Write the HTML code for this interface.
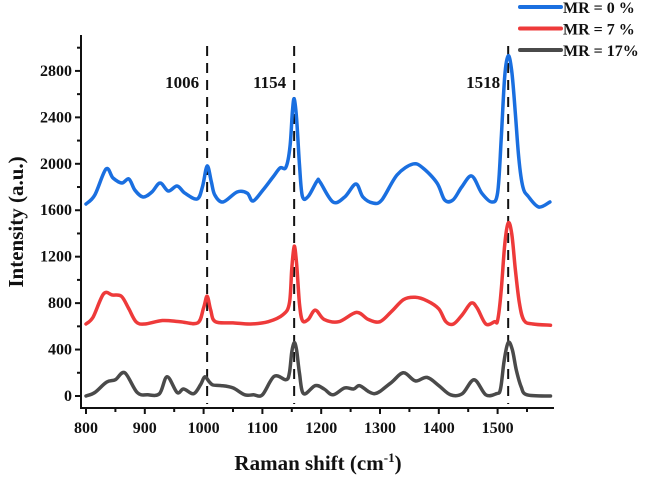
<!DOCTYPE html>
<html><head><meta charset="utf-8"><style>
html,body{margin:0;padding:0;background:#fff;}
svg text{font-family:"Liberation Serif",serif;font-weight:bold;fill:#111;}
</style></head><body>
<svg id="chart" width="645" height="478" viewBox="0 0 645 478" xmlns="http://www.w3.org/2000/svg">
<g id="series"></g>
<g id="axes"></g>
<g id="legend"></g>
</svg>
<script>
const xTicks=[800,900,1000,1100,1200,1300,1400,1500];
const yTicks=[0,400,800,1200,1600,2000,2400,2800];
const peaks=[1006,1154,1518];
const seriesNames=["MR = 0 %","MR = 7 %","MR = 17%"];
const seriesColors=["#1a6fe0","#ee3a3a","#4a4a4a"];
const blueX=[800,815,834,846,861,873,883,897,912,926,940,955,968,989,998,1006,1013,1019,1033,1057,1074,1084,1101,1118,1130,1140,1147,1151,1154,1158,1163,1168,1178,1193,1198,1220,1240,1259,1271,1288,1303,1329,1356,1373,1397,1410,1424,1439,1456,1473,1490,1500,1506,1512,1518,1524,1530,1536,1543,1552,1570,1589];
const blueY=[1654,1731,1955,1878,1835,1869,1774,1714,1757,1835,1766,1809,1748,1697,1800,1981,1850,1731,1671,1757,1748,1680,1774,1886,1964,1970,2150,2450,2560,2400,2000,1720,1720,1852,1843,1671,1714,1826,1714,1662,1688,1904,1998,1964,1835,1688,1688,1800,1895,1748,1671,1750,2200,2750,2930,2800,2450,2050,1800,1720,1628,1671];
const redX=[800,812,830,845,860,872,885,900,930,960,990,1000,1006,1012,1020,1050,1080,1110,1135,1146,1150,1154,1158,1163,1168,1178,1190,1205,1230,1260,1280,1300,1320,1340,1360,1380,1400,1412,1425,1440,1455,1465,1480,1495,1500,1506,1512,1518,1524,1530,1537,1545,1560,1590];
const redY=[620,680,880,870,860,760,640,620,650,640,630,760,860,740,640,630,620,640,700,800,1100,1290,1150,800,650,660,740,660,640,720,660,640,730,830,850,820,750,640,620,700,800,760,620,640,650,900,1300,1490,1400,1100,800,650,620,610];
const grayX=[800,815,835,850,866,887,905,925,938,955,966,983,995,1002,1010,1016,1030,1050,1070,1085,1100,1120,1140,1146,1150,1154,1158,1163,1170,1190,1205,1220,1240,1255,1265,1280,1290,1300,1320,1340,1360,1380,1400,1420,1440,1460,1480,1498,1505,1511,1518,1525,1532,1540,1550,1590];
const grayY=[0,30,120,140,200,30,10,20,165,30,60,20,100,165,120,95,90,70,10,10,10,170,140,200,380,460,400,200,20,90,60,10,70,60,90,40,20,40,120,200,130,160,90,10,20,140,10,20,60,300,460,400,220,80,10,0];
const xs=[blueX,redX,grayX], ys=[blueY,redY,grayY];

const ns="http://www.w3.org/2000/svg";
const X=v=>86+(v-800)*0.588;
const Y=v=>396-v*0.1161;
const L=81,R=554,T=35,B=408;
function mk(tag,attrs,parent,text){const e=document.createElementNS(ns,tag);for(const k in attrs)e.setAttribute(k,attrs[k]);if(text!==undefined)e.textContent=text;parent.appendChild(e);return e;}
function smooth(pts){
  let d='M'+pts[0][0].toFixed(1)+','+pts[0][1].toFixed(1);
  for(let i=0;i<pts.length-1;i++){
    const p0=pts[Math.max(0,i-1)],p1=pts[i],p2=pts[i+1],p3=pts[Math.min(pts.length-1,i+2)];
    const c1=[p1[0]+(p2[0]-p0[0])/6,p1[1]+(p2[1]-p0[1])/6];
    const c2=[p2[0]-(p3[0]-p1[0])/6,p2[1]-(p3[1]-p1[1])/6];
    d+=` C${c1[0].toFixed(1)},${c1[1].toFixed(1)} ${c2[0].toFixed(1)},${c2[1].toFixed(1)} ${p2[0].toFixed(1)},${p2[1].toFixed(1)}`;
  }
  return d;
}
const sg=document.getElementById('series'),ag=document.getElementById('axes'),lg=document.getElementById('legend');

peaks.forEach((p,i)=>{
  const l=mk('line',{x1:X(p),x2:X(p),y1:46,y2:404,stroke:'#111','stroke-width':2,'stroke-dasharray':'10,7'},sg);
  
  
  const t=mk('text',{x:X(p)-8,y:88,'text-anchor':'end','font-size':17},sg,String(p));
  
  
});
[2,1,0].forEach(i=>{
  const pts=xs[i].map((x,j)=>[X(x),Y(ys[i][j])]);
  const p=mk('path',{d:smooth(pts),fill:'none',stroke:seriesColors[i],'stroke-width':3.5,'stroke-linejoin':'round','stroke-linecap':'round'},sg);
  
  
});
const ax=mk('path',{d:`M${L},${T} L${L},${B} L${R},${B}`,fill:'none',stroke:'#111','stroke-width':2},ag);


xTicks.forEach(v=>{
  mk('line',{x1:X(v),x2:X(v),y1:B,y2:B+6,stroke:'#111','stroke-width':2},ag);
  mk('line',{x1:X(v+50),x2:X(v+50),y1:B,y2:B+4,stroke:'#111','stroke-width':2},ag);
  const t=mk('text',{x:X(v),y:B+25,'text-anchor':'middle','font-size':16},ag,String(v));
  
  
});
yTicks.forEach(v=>{
  mk('line',{x1:L-6,x2:L,y1:Y(v),y2:Y(v),stroke:'#111','stroke-width':2},ag);
  mk('line',{x1:L-4,x2:L,y1:Y(v+200),y2:Y(v+200),stroke:'#111','stroke-width':2},ag);
  const t=mk('text',{x:L-9,y:Y(v)+5,'text-anchor':'end','font-size':16},ag,String(v));
  
  
});
const xt=mk('text',{x:318,y:470,'text-anchor':'middle','font-size':21},ag);
xt.innerHTML='Raman shift (cm<tspan dy="-8" font-size="13">-1</tspan><tspan dy="8">)</tspan>';


const yt=mk('text',{x:0,y:0,'text-anchor':'middle','font-size':21,transform:'translate(23,222) rotate(-90)'},ag,'Intensity (a.u.)');


seriesNames.forEach((n,i)=>{
  const y=7+i*21.5;
  const g=mk('g',{},lg);
  
  
  mk('line',{x1:520,x2:561,y1:y,y2:y,stroke:seriesColors[i],'stroke-width':4,'stroke-linecap':'round'},g);
  mk('text',{x:563,y:y+6,'font-size':16},g,n);
});
</script>
</body></html>
